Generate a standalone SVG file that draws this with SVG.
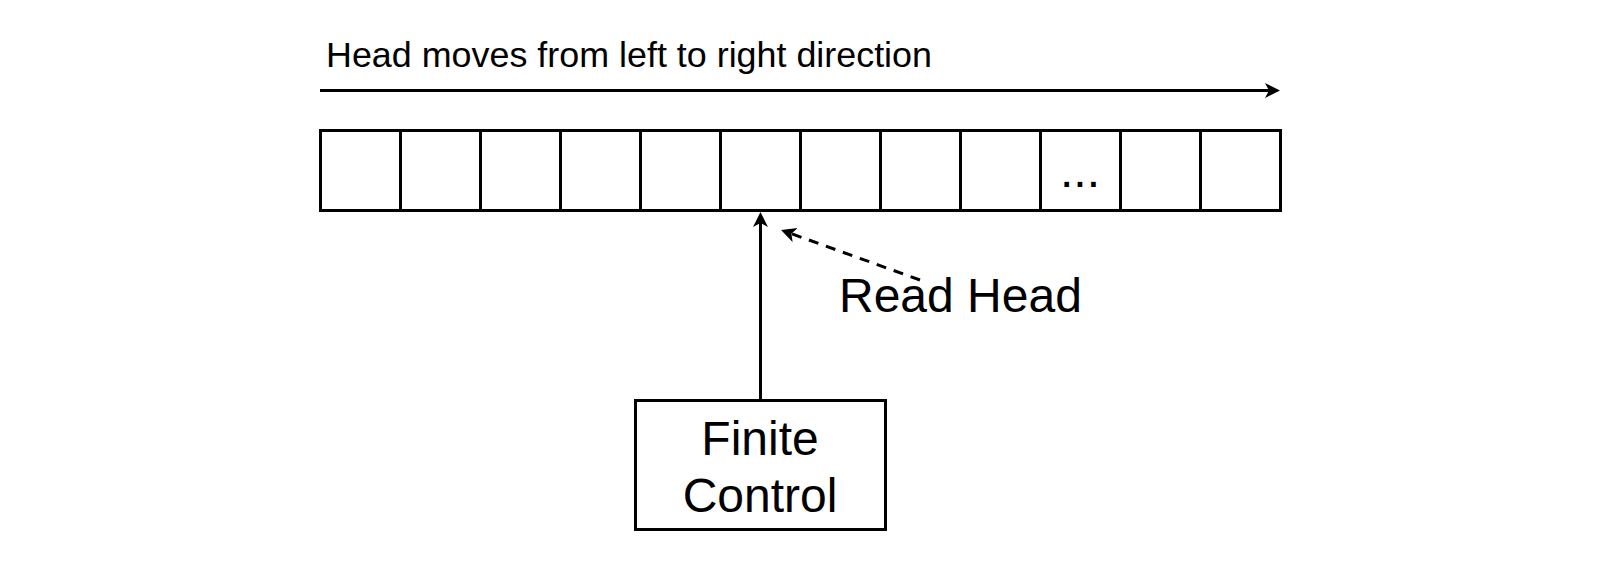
<svg xmlns="http://www.w3.org/2000/svg" width="1600" height="568" viewBox="0 0 1600 568">
  <style>
    .cell { fill: #ffffff; stroke: #000000; stroke-width: 3; }
    .box { fill: #ffffff; stroke: #000000; stroke-width: 3; }
    .edge { fill: none; stroke: #000000; stroke-width: 3; }
    .dashed { stroke-dasharray: 10 8; }
    .txt { font-family: "Liberation Sans", Arial, sans-serif; fill: #000000; }
  </style>
  <defs>
    <marker id="arrow" markerUnits="userSpaceOnUse" markerWidth="16" markerHeight="16" refX="4" refY="7.5" orient="auto">
      <path d="M0,0 L15,7.5 L0,15 L4,7.5 Z" fill="#000000"/>
    </marker>
  </defs>
  <rect width="1600" height="568" fill="#ffffff"/>

  <g id="direction-label">
    <text class="txt" x="326" y="67" font-size="35" textLength="606" lengthAdjust="spacingAndGlyphs">Head moves from left to right direction</text>
  </g>

  <g id="tape">
    <rect class="cell" x="320.5" y="130.5" width="80" height="80"/>
    <rect class="cell" x="400.5" y="130.5" width="80" height="80"/>
    <rect class="cell" x="480.5" y="130.5" width="80" height="80"/>
    <rect class="cell" x="560.5" y="130.5" width="80" height="80"/>
    <rect class="cell" x="640.5" y="130.5" width="80" height="80"/>
    <rect class="cell" x="720.5" y="130.5" width="80" height="80"/>
    <rect class="cell" x="800.5" y="130.5" width="80" height="80"/>
    <rect class="cell" x="880.5" y="130.5" width="80" height="80"/>
    <rect class="cell" x="960.5" y="130.5" width="80" height="80"/>
    <rect class="cell" x="1040.5" y="130.5" width="80" height="80"/>
    <rect class="cell" x="1120.5" y="130.5" width="80" height="80"/>
    <rect class="cell" x="1200.5" y="130.5" width="80" height="80"/>
    <text class="txt" x="1080" y="187" font-size="48" text-anchor="middle">...</text>
  </g>

  <g id="read-head-label">
    <text class="txt" x="839" y="312" font-size="48">Read Head</text>
  </g>

  <g id="finite-control">
    <rect class="box" x="635.5" y="400.5" width="250" height="129"/>
    <text class="txt" x="760" y="455" font-size="48" text-anchor="middle">Finite</text>
    <text class="txt" x="760" y="512" font-size="48" text-anchor="middle">Control</text>
  </g>

  <g id="connectors">
    <line class="edge" x1="320" y1="90.5" x2="1269" y2="90.5" marker-end="url(#arrow)"/>
    <line class="edge" x1="760.5" y1="399" x2="760.5" y2="223" marker-end="url(#arrow)"/>
    <line class="edge dashed" x1="920" y1="280" x2="791.4" y2="233.7" marker-end="url(#arrow)"/>
  </g>
</svg>
